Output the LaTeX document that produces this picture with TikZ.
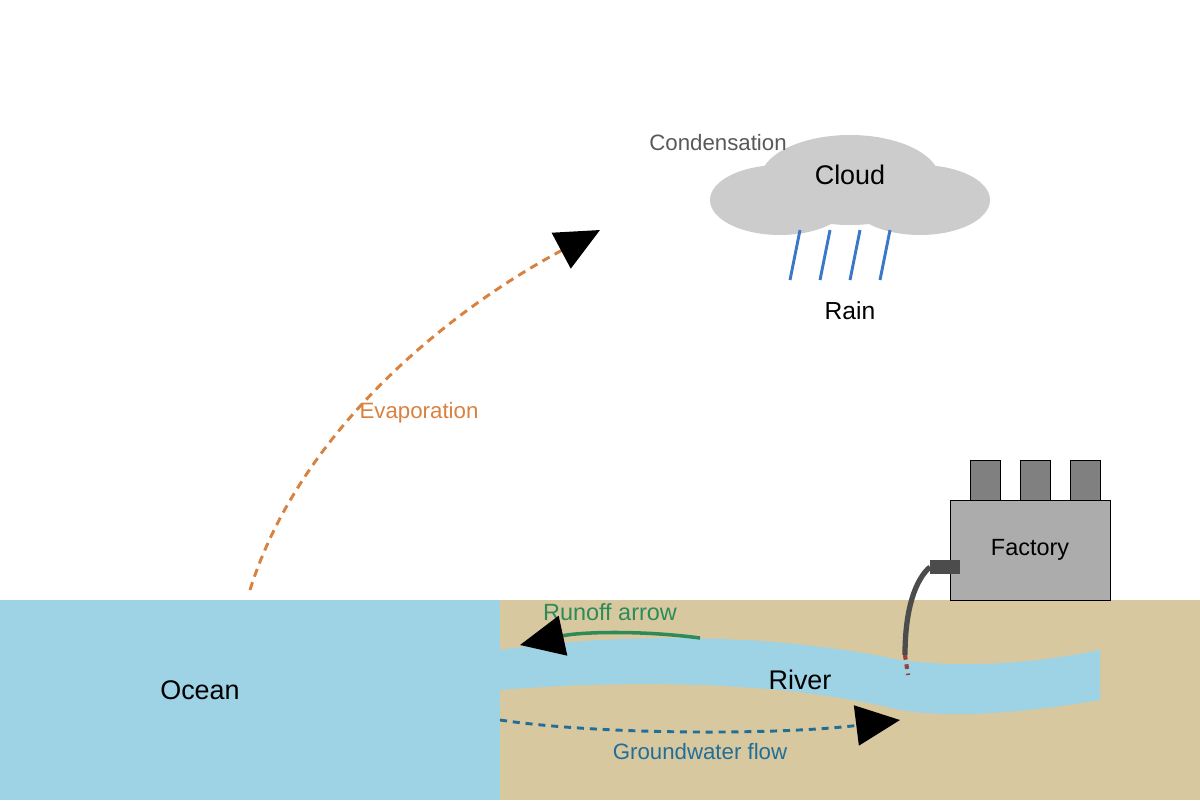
\documentclass[tikz,border=0pt]{standalone}
\usepackage{fontspec}
\setmainfont{Liberation Sans}
\usetikzlibrary{arrows.meta}

\definecolor{water}{HTML}{9ED3E6}
\definecolor{sand}{HTML}{D8C8A0}
\definecolor{evap}{HTML}{D9813F}
\definecolor{runoff}{HTML}{2E8B57}
\definecolor{ground}{HTML}{236E96}
\definecolor{rain}{HTML}{3A78C8}

\begin{document}
\begin{tikzpicture}[x=0.03cm,y=-0.03cm,
	big tip/.style={-{Triangle[length=44*0.03cm,width=40*0.03cm,color=black,fill=black]}},
	label/.style={font=\fontsize{19}{19}\selectfont},
	main label/.style={font=\fontsize{23}{23}\selectfont}]
	\useasboundingbox (0,0) rectangle (1200,800);
	% ground and water
	\fill[sand] (500,600) rectangle (1200,800);
	\fill[water] (0,600) rectangle (500,800);
	\fill[water] (500,650) .. controls (600,635) and (760,630) .. (900,660)
	.. controls (980,670) and (1050,660) .. (1100,650) -- (1100,700)
	.. controls (1040,710) and (960,720) .. (900,710)
	.. controls (780,680) and (620,680) .. (500,690) -- cycle;
	% cloud
	\fill[gray!40] (780,200) ellipse (70 and 35) (920,200) ellipse (70 and 35)
	(850,180) ellipse (90 and 45);
	\foreach \x in {800,830,860,890}
	\draw[rain, line width=2.5pt] (\x,230) -- (\x-10,280);
	% factory
	\foreach \x in {970,1020,1070}
	\draw[fill=gray] (\x,460) rectangle (\x+30,500);
	\node[draw, fill=gray!65, minimum width=160*0.03cm, minimum height=100*0.03cm,
	  inner sep=0, font=\fontsize{20}{20}\selectfont] (factory) at (1030,550) {Factory};
	\fill[black!70] (930,560) rectangle (960,574);
	\coordinate (pipe) at (930,567);
	\coordinate (outlet) at (905,655);
	\coordinate (drip) at (908,675);
	\draw[black!70, line width=4.5pt] (pipe) .. controls (915,580) and (905,610) .. (outlet);
	\draw[red!45!black!75, line width=3.5pt, dash pattern=on 4pt off 4pt] (outlet) -- (drip);
	% labels
	\node[main label] (ocean) at (200,690) {Ocean};
	\node[main label] (river) at (800,680) {River};
	\node[main label] (cloud) at (850,175) {Cloud};
	\node[main label, font=\fontsize{21}{21}\selectfont] (rainlbl) at (850,311) {Rain};
	\node[label, text=black!65] (cond) at (718,143) {Condensation};
	\node[label, text=evap] (evaplbl) at (419,413) {Evaporation};
	\node[label, text=runoff, font=\fontsize{20}{20}\selectfont] (runlbl) at (610,612) {Runoff arrow};
	\node[label, text=ground] (gwlbl) at (700,752) {Groundwater flow};
	% flows
	\coordinate (sea) at (250,590);
	\coordinate (sky) at (600,230);
	\draw[evap, line width=2.5pt, dash pattern=on 7pt off 5pt, big tip]
	  (sea) .. controls (300,430) and (450,310) .. (sky);
	\coordinate (runstart) at (700,638);
	\coordinate (runend) at (520,645);
	\draw[runoff, line width=3pt, big tip] (runstart) .. controls (640,630) and (580,632) .. (runend);
	\coordinate (gwstart) at (500,720);
	\coordinate (gwend) at (900,720);
	\draw[ground, line width=2.5pt, dash pattern=on 6pt off 5pt, big tip]
	  (gwstart) .. controls (600,735) and (780,735) .. (gwend);
\end{tikzpicture}
\end{document}
